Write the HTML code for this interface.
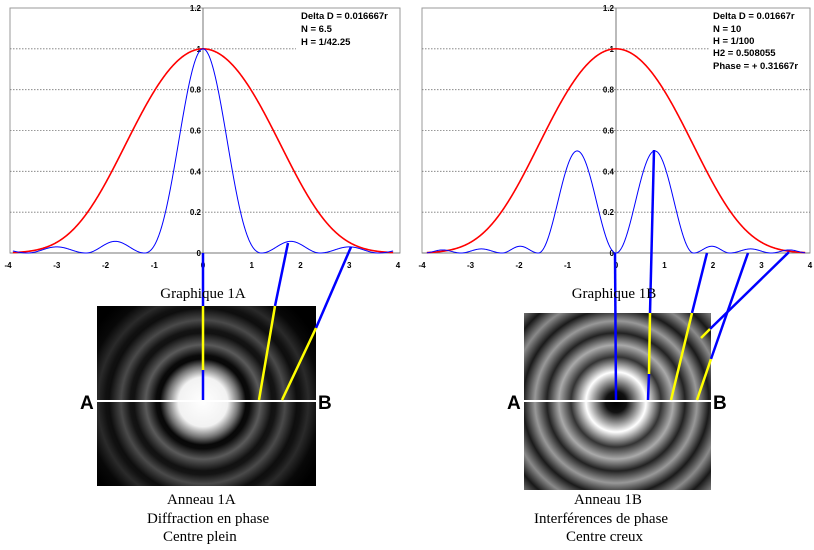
<!DOCTYPE html>
<html><head><meta charset="utf-8"><style>
body{margin:0;background:#fff;width:814px;height:550px;overflow:hidden}
svg{display:block}
.t{font-family:"Liberation Sans",Arial,sans-serif;font-weight:bold;font-size:8px;fill:#000}
.a{font-family:"Liberation Sans",Arial,sans-serif;font-weight:bold;font-size:9.5px;fill:#000}
.c{font-family:"Liberation Serif",serif;font-size:15px;fill:#000}
.ab{font-family:"Liberation Sans",Arial,sans-serif;font-weight:bold;font-size:19px;fill:#000}
</style></head><body>
<svg id="s" width="814" height="550" xmlns="http://www.w3.org/2000/svg">
<defs>
<radialGradient id="g1" cx="203" cy="402" r="130" gradientUnits="userSpaceOnUse">
<stop offset="0" stop-color="#fff"/><stop offset="0.19" stop-color="#f2f2f2"/>
<stop offset="0.27" stop-color="#777"/><stop offset="0.33" stop-color="#080808"/>
<stop offset="0.36" stop-color="#0a0a0a"/><stop offset="0.44" stop-color="#5a5a5a"/>
<stop offset="0.53" stop-color="#111"/><stop offset="0.56" stop-color="#141414"/>
<stop offset="0.63" stop-color="#4a4a4a"/><stop offset="0.72" stop-color="#0e0e0e"/>
<stop offset="0.75" stop-color="#111"/><stop offset="0.81" stop-color="#2a2a2a"/>
<stop offset="0.9" stop-color="#080808"/><stop offset="1" stop-color="#000"/>
</radialGradient>
<radialGradient id="g2" cx="616" cy="402" r="150" gradientUnits="userSpaceOnUse">
<stop offset="0" stop-color="#000"/><stop offset="0.07" stop-color="#111"/>
<stop offset="0.2" stop-color="#fff"/><stop offset="0.3" stop-color="#333"/>
<stop offset="0.38" stop-color="#aaa"/><stop offset="0.46" stop-color="#222"/>
<stop offset="0.54" stop-color="#999"/><stop offset="0.62" stop-color="#1a1a1a"/>
<stop offset="0.7" stop-color="#8a8a8a"/><stop offset="0.78" stop-color="#181818"/>
<stop offset="0.86" stop-color="#7a7a7a"/><stop offset="0.94" stop-color="#111"/>
<stop offset="1" stop-color="#555"/>
</radialGradient>
</defs>
<g id="charts"></g>
<rect x="97" y="306" width="219" height="180" fill="url(#g1)"/>
<rect x="524" y="313" width="187" height="177" fill="url(#g2)"/>
<line x1="97" y1="401" x2="316" y2="401" stroke="#fff" stroke-width="2"/>
<line x1="524" y1="401" x2="711" y2="401" stroke="#fff" stroke-width="2"/>
<text class="ab" x="80" y="409">A</text><text class="ab" x="318" y="409">B</text>
<text class="ab" x="507" y="409">A</text><text class="ab" x="713" y="409">B</text>
<g stroke-width="2.5" fill="none">
<line x1="203" y1="253" x2="203" y2="306" stroke="#0000ff"/>
<line x1="203" y1="306" x2="203" y2="370" stroke="#ffff00"/>
<line x1="203" y1="370" x2="203" y2="400" stroke="#0000ff"/>
<line x1="288" y1="243" x2="275" y2="306" stroke="#0000ff"/>
<line x1="275" y1="306" x2="259" y2="400" stroke="#ffff00"/>
<line x1="351" y1="247" x2="316" y2="328" stroke="#0000ff"/>
<line x1="316" y1="328" x2="282" y2="400" stroke="#ffff00"/>
<line x1="615" y1="253" x2="616" y2="400" stroke="#0000ff"/>
<line x1="654" y1="150" x2="650" y2="313" stroke="#0000ff"/>
<line x1="650" y1="313" x2="649" y2="374" stroke="#ffff00"/>
<line x1="649" y1="374" x2="648" y2="400" stroke="#0000ff"/>
<line x1="707" y1="253" x2="692" y2="313" stroke="#0000ff"/>
<line x1="692" y1="313" x2="671" y2="400" stroke="#ffff00"/>
<line x1="748" y1="253" x2="711" y2="359" stroke="#0000ff"/>
<line x1="711" y1="359" x2="697" y2="400" stroke="#ffff00"/>
<line x1="789" y1="252" x2="710" y2="329" stroke="#0000ff"/>
<line x1="710" y1="329" x2="701" y2="338" stroke="#ffff00"/>
</g>
<text class="c" x="203" y="298" text-anchor="middle">Graphique 1A</text>
<text class="c" x="614" y="298" text-anchor="middle">Graphique 1B</text>
<text class="c" x="167" y="504">Anneau 1A</text>
<text class="c" x="147" y="523">Diffraction en phase</text>
<text class="c" x="163" y="541">Centre plein</text>
<text class="c" x="574" y="504">Anneau 1B</text>
<text class="c" x="534" y="523">Interférences de phase</text>
<text class="c" x="566" y="541">Centre creux</text>
</svg>
<script>
var NS="http://www.w3.org/2000/svg",G=document.getElementById("charts");
function el(n,a,t){var e=document.createElementNS(NS,n);for(var k in a)e.setAttribute(k,a[k]);if(t!=null)e.textContent=t;G.appendChild(e);return e;}
function red(x){return Math.exp(-0.22*x*x-0.012*x*x*x*x);}
function lobes(x,z,A){x=Math.abs(x);for(var i=0;i<z.length-1;i++){if(x>=z[i]&&x<=z[i+1])return A[i]*Math.pow(Math.sin(Math.PI*(x-z[i])/(z[i+1]-z[i])),2);}return 0;}
function blueA(x){var a=Math.abs(x);if(a<1.2){if(a<1e-6)return 1;var u=Math.PI*a/1.2;return Math.pow(Math.sin(u)/u,2);}return lobes(x,[1.2,2.4,3.6,4.8],[0.057,0.03,0.02]);}
function blueB(x){var a=Math.abs(x);if(a<1.6)return 0.5*Math.pow(Math.sin(Math.PI*a/1.6),2);return lobes(x,[1.6,2.35,3.2,3.95],[0.033,0.02,0.015]);}
function chart(L,R,cx,fb,ann,gridEnd){
 var T=8,B=253,sx=(R-L)/8,sy=(B-T)/1.2;
 el("rect",{x:L,y:T,width:R-L,height:B-T,fill:"none",stroke:"#999","stroke-width":1});
 for(var i=1;i<=5;i++){var y=B-i*0.2*sy;el("line",{x1:L,y1:y,x2:i==5?gridEnd:R,y2:y,stroke:"#777","stroke-width":0.8,"stroke-dasharray":"1.5,1.5"});}
 el("line",{x1:cx,y1:T,x2:cx,y2:B,stroke:"#777","stroke-width":1});
 el("line",{x1:L,y1:B,x2:R,y2:B,stroke:"#777","stroke-width":1});
 var yl=["0","0.2","0.4","0.6","0.8","1","1.2"];
 for(var i=0;i<7;i++)el("text",{class:"t",x:cx-2,y:B-i*0.2*sy+3,"text-anchor":"end"},yl[i]);
 for(var v=-4;v<=4;v++)el("text",{class:"t",x:cx+v*sx,y:268,"text-anchor":"middle"},String(v));
 var pr="",pb="";
 for(var x=-3.9;x<=3.9001;x+=0.01){var X=(cx+x*sx).toFixed(2);pr+=(pr?"L":"M")+X+","+(B-red(x)*sy).toFixed(2);pb+=(pb?"L":"M")+X+","+(B-fb(x)*sy).toFixed(2);}
 el("path",{d:pr,fill:"none",stroke:"#ff0000","stroke-width":1.6});
 el("path",{d:pb,fill:"none",stroke:"#0000ff","stroke-width":1});
 for(var i=0;i<ann.length;i++)el("text",{class:"a",x:ann[i][0],y:ann[i][1]},ann[i][2]);
}
chart(10,400,203,blueA,[[301,19,"Delta D = 0.016667r"],[301,32,"N = 6.5"],[301,45,"H = 1/42.25"]],296);
chart(422,810,616,blueB,[[713,19,"Delta D = 0.01667r"],[713,32,"N = 10"],[713,44,"H = 1/100"],[713,56,"H2 = 0.508055"],[713,69,"Phase = + 0.31667r"]],709);
</script>
</body></html>
